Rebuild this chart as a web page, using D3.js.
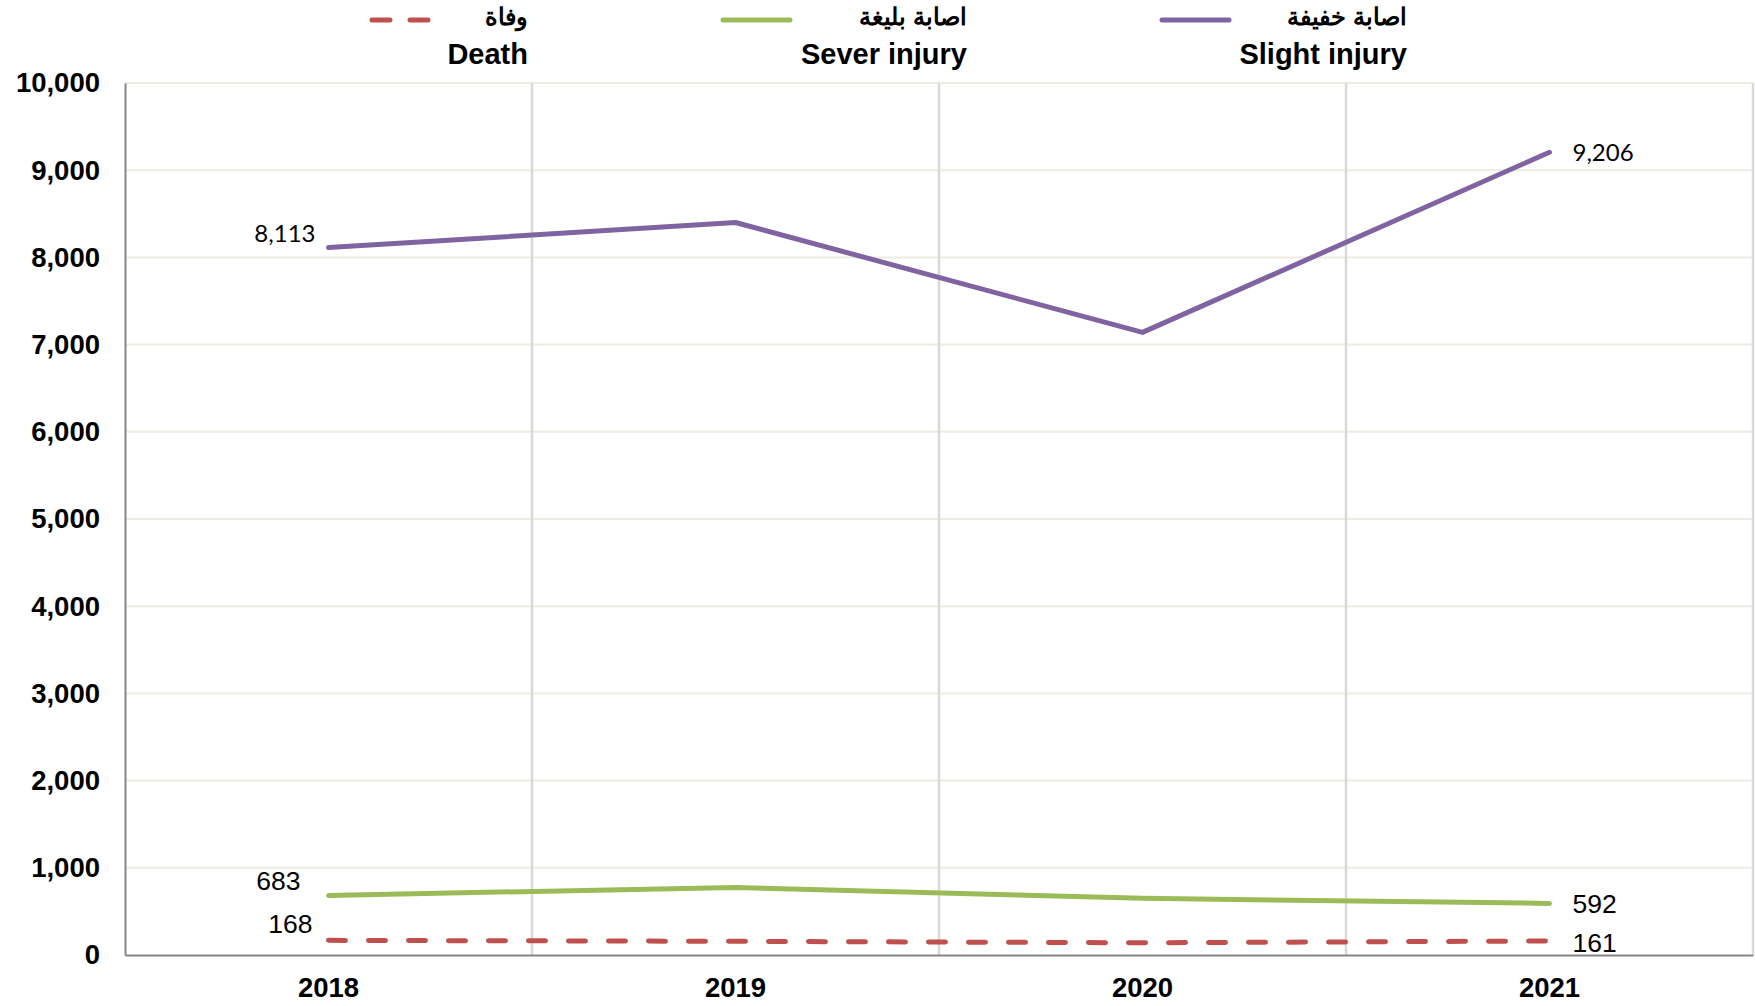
<!DOCTYPE html>
<html>
<head>
<meta charset="utf-8">
<script src="https://cdn.jsdelivr.net/npm/d3@7"></script>
<style>
  body { margin: 0; background: #fff; }
  svg { display: block; }
</style>
</head>
<body>
<div id="chart"></div>
<script>
// data
const years = ["2018", "2019", "2020", "2021"];
const slightInjury = [8113, 8400, 7140, 9206];
const severInjury = [683, 775, 650, 592];
const deaths = [168, 157, 140, 161];
const yTicks = [0, 1000, 2000, 3000, 4000, 5000, 6000, 7000, 8000, 9000, 10000];

const series = [
  { ar: "اصابة خفيفة", en: "Slight injury", values: slightInjury, color: "#8064a2", dash: null, legendX: 1407, lineX: 1162 },
  { ar: "اصابة بليغة", en: "Sever injury", values: severInjury, color: "#9bbb59", dash: null, legendX: 967, lineX: 723 },
  { ar: "وفاة", en: "Death", values: deaths, color: "#c0504d", dash: "17,23", legendX: 528, lineX: 372 }
];

const W = 1755, H = 1006;
const plotLeft = 125, plotRight = 1753, plotTop = 83, plotBottom = 955;

const svg = d3.select("#chart").append("svg")
  .attr("width", W).attr("height", H);

const x = d3.scaleBand().domain(years).range([plotLeft, plotRight]);
const y = d3.scaleLinear().domain([0, 10000]).range([plotBottom, plotTop]);
const cx = d => x(d) + x.bandwidth() / 2;

const arialLike = "'Liberation Sans', Arial, sans-serif";
const calibriLike = "Lato, 'Open Sans', sans-serif";

// horizontal gridlines
svg.append("g").selectAll("line")
  .data(yTicks.filter(t => t > 0))
  .enter().append("line")
  .attr("x1", plotLeft).attr("x2", plotRight)
  .attr("y1", d => y(d)).attr("y2", d => y(d))
  .attr("stroke", "#eeece1").attr("stroke-width", 2);

// vertical gridlines between categories
svg.append("g").selectAll("line")
  .data(years)
  .enter().append("line")
  .attr("x1", d => x(d) + x.bandwidth()).attr("x2", d => x(d) + x.bandwidth())
  .attr("y1", plotTop).attr("y2", plotBottom)
  .attr("stroke", "#d9d9d9").attr("stroke-width", 2.5);

// y axis
const yAxis = svg.append("g")
  .attr("transform", "translate(" + plotLeft + ",0)")
  .call(d3.axisLeft(y).tickValues(yTicks).tickFormat(d3.format(",")).tickSize(0).tickPadding(25));
yAxis.select(".domain").attr("stroke", "#868686").attr("stroke-width", 2);
yAxis.selectAll("text")
  .attr("font-family", arialLike)
  .attr("font-size", 27.5).attr("font-weight", "bold").attr("fill", "#000");

// x axis
const xAxis = svg.append("g")
  .attr("transform", "translate(0," + plotBottom + ")")
  .call(d3.axisBottom(x).tickSize(0).tickPadding(22));
xAxis.select(".domain").attr("stroke", "#868686").attr("stroke-width", 2);
xAxis.selectAll("text")
  .attr("font-family", arialLike)
  .attr("font-size", 27.5).attr("font-weight", "bold").attr("fill", "#000");

// lines
const line = d3.line().x((d, i) => cx(years[i])).y(d => y(d));
series.slice().reverse().forEach(s => {
  svg.append("path")
    .datum(s.values)
    .attr("d", line)
    .attr("fill", "none")
    .attr("stroke", s.color)
    .attr("stroke-width", 5)
    .attr("stroke-linecap", "round")
    .attr("stroke-linejoin", "round")
    .attr("stroke-dasharray", s.dash);
});

// data labels at first and last point
const fmt = d3.format(",");
function label(val, i, dx, dy, anchor, family, size) {
  svg.append("text")
    .attr("x", cx(years[i]) + dx)
    .attr("y", y(val) + dy)
    .attr("text-anchor", anchor)
    .attr("dominant-baseline", "middle")
    .attr("font-family", family)
    .attr("font-size", size)
    .attr("fill", "#000")
    .text(fmt(val));
}
label(slightInjury[0], 0, -13, -12, "end", calibriLike, 24);
label(slightInjury[3], 3, 23, 3, "start", calibriLike, 24);
label(severInjury[0], 0, -28, -12, "end", arialLike, 26.5);
label(severInjury[3], 3, 23, 3, "start", arialLike, 26.5);
label(deaths[0], 0, -16, -14, "end", arialLike, 26.5);
label(deaths[3], 3, 23, 4, "start", arialLike, 26.5);

// legend
const legend = svg.append("g");
series.forEach(s => {
  legend.append("line")
    .attr("x1", s.lineX).attr("x2", s.lineX + 67)
    .attr("y1", 20).attr("y2", 20)
    .attr("stroke", s.color).attr("stroke-width", 5)
    .attr("stroke-linecap", "round")
    .attr("stroke-dasharray", s.dash ? "18,20" : null);
  legend.append("text")
    .attr("x", s.legendX).attr("y", 19)
    .attr("text-anchor", "end").attr("dominant-baseline", "middle")
    .attr("font-family", arialLike).attr("font-size", 24).attr("font-weight", "bold")
    .attr("fill", "#000").text(s.ar);
  legend.append("text")
    .attr("x", s.legendX).attr("y", 56)
    .attr("text-anchor", "end").attr("dominant-baseline", "middle")
    .attr("font-family", arialLike).attr("font-size", 29).attr("font-weight", "bold")
    .attr("fill", "#000").text(s.en);
});
</script>
</body>
</html>
